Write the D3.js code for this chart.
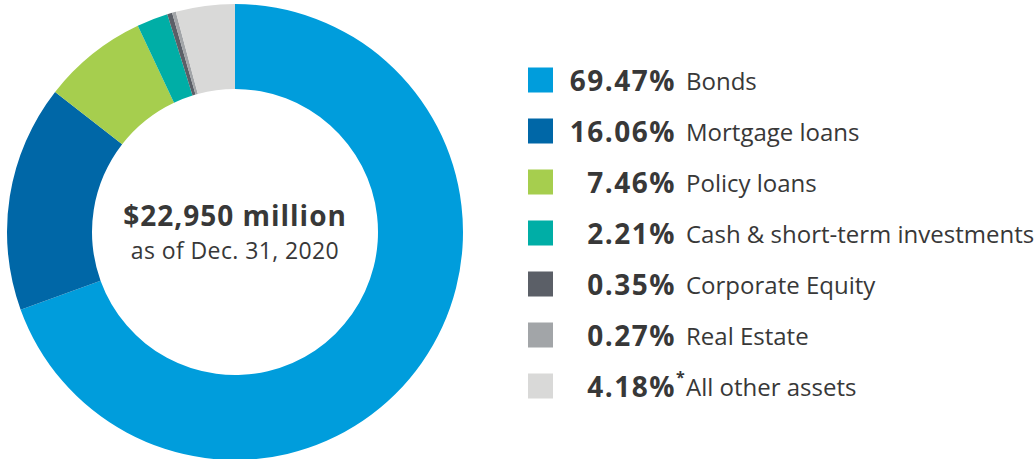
<!DOCTYPE html>
<html>
<head>
<meta charset="utf-8">
<script src="https://cdn.jsdelivr.net/npm/d3@7"></script>
<style>
  html, body { margin: 0; padding: 0; background: #fff; }
  svg { display: block; font-family: "Open Sans", "Lato", sans-serif; }
</style>
</head>
<body>
<svg id="chart" width="1034" height="459"></svg>
<script>
// asset allocation, share of total (%)
const categories = ["Bonds", "Mortgage loans", "Policy loans", "Cash & short-term investments",
                    "Corporate Equity", "Real Estate", "All other assets"];
const shares = [69.47, 16.06, 7.46, 2.21, 0.35, 0.27, 4.18];
const shareLabels = ["69.47%", "16.06%", "7.46%", "2.21%", "0.35%", "0.27%", "4.18%"];
const footnoteMarks = ["", "", "", "", "", "", "*"];
const colors = ["#009ddc", "#0067a7", "#a6ce4e", "#00aea6", "#5b5f67", "#a2a5a8", "#d9d9d8"];
const centerTitle = "$22,950 million";
const centerSub = "as of Dec. 31, 2020";

const svg = d3.select("#chart");
const textColor = "#383838";

// donut
const cx = 235, cy = 232, rOuter = 228, rInner = 143;
const g = svg.append("g").attr("transform", `translate(${cx},${cy})`);

const pie = d3.pie().sort(null).value(d => d.v);
const arc = d3.arc().innerRadius(rInner).outerRadius(rOuter);
const data = shares.map((v, i) => ({ v, i }));

g.selectAll("path")
  .data(pie(data))
  .join("path")
  .attr("d", arc)
  .attr("fill", d => colors[d.data.i]);

g.append("text")
  .attr("text-anchor", "middle")
  .attr("y", -6)
  .attr("font-size", 28)
  .attr("font-weight", 700)
  .attr("letter-spacing", 1)
  .attr("fill", textColor)
  .text(centerTitle);

g.append("text")
  .attr("text-anchor", "middle")
  .attr("y", 27)
  .attr("font-size", 23)
  .attr("letter-spacing", 0.4)
  .attr("fill", textColor)
  .text(centerSub);

// legend
const y = d3.scalePoint().domain(d3.range(categories.length)).range([80, 386]);
const legend = svg.append("g");

const rows = legend.selectAll("g.row")
  .data(categories)
  .join("g")
  .attr("class", "row")
  .attr("transform", (d, i) => `translate(0,${y(i)})`);

rows.append("rect")
  .attr("x", 528).attr("y", -12.5)
  .attr("width", 25).attr("height", 25)
  .attr("fill", (d, i) => colors[i]);

rows.append("text")
  .attr("x", 676).attr("y", 10.5)
  .attr("text-anchor", "end")
  .attr("font-size", 28)
  .attr("font-weight", 700)
  .attr("letter-spacing", 1.5)
  .attr("fill", textColor)
  .text((d, i) => shareLabels[i]);

rows.filter((d, i) => footnoteMarks[i])
  .append("text")
  .attr("x", 676).attr("y", -3)
  .attr("font-size", 16)
  .attr("font-weight", 700)
  .attr("fill", textColor)
  .text("*");

rows.append("text")
  .attr("x", 686).attr("y", 10)
  .attr("font-size", 24)
  .attr("fill", textColor)
  .text(d => d);
</script>
</body>
</html>
